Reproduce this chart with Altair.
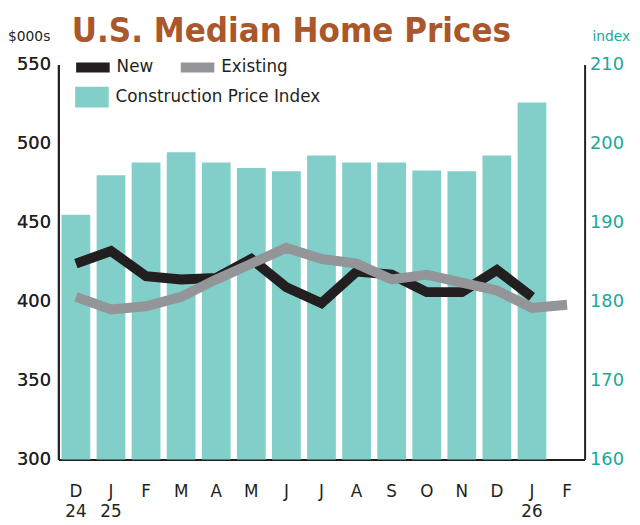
import json
import altair as alt
import pandas as pd

months = ["D", "J", "F", "M", "A", "M", "J", "J", "A", "S", "O", "N", "D", "J", "F"]
years = ["24", "25", "", "", "", "", "", "", "", "", "", "", "", "26", ""]
new_prices = [424, 432, 416, 414, 415, 427, 409, 399, 419, 417, 406, 406, 420, 403]
existing_prices = [403, 395, 397, 403, 414, 424, 434, 427, 424, 414, 417, 412, 407, 396, 398]
cpi = [191.0, 196.0, 197.6, 198.9, 197.6, 196.9, 196.5, 198.5, 197.6, 197.6, 196.6, 196.5, 198.5, 205.2]
left_ticks = [300, 350, 400, 450, 500, 550]
right_ticks = [160, 170, 180, 190, 200, 210]

BLACK = "#231f20"
GRAY = "#939598"
BAR = "#82cfca"
TEAL = "#19a99b"
BROWN = "#a9572b"
FONT = "DejaVu Sans"
TITLE_FONT = "'DejaVu Sans Condensed', 'Roboto Condensed', 'Liberation Sans', sans-serif"

idx = list(range(len(months)))
labels = [[m, y] if y else m for m, y in zip(months, years)]
label_expr = json.dumps(labels) + "[datum.value]"

bars_df = pd.DataFrame({"idx": idx[: len(cpi)], "cpi": cpi, "s": "Construction Price Index"})
lines_df = pd.concat([
    pd.DataFrame({"idx": idx[: len(new_prices)], "v": new_prices, "series": "New"}),
    pd.DataFrame({"idx": idx[: len(existing_prices)], "v": existing_prices, "series": "Existing"}),
])

x_enc = alt.X(
    "idx:O",
    scale=alt.Scale(domain=idx, paddingInner=0.18, paddingOuter=0.09),
    axis=alt.Axis(
        title=None, labelExpr=label_expr, labelAngle=0, ticks=False,
        domainColor=BLACK, domainWidth=2, labelFont=FONT, labelFontSize=17,
        labelColor=BLACK, labelPadding=24, labelLineHeight=21,
    ),
)

bars = alt.Chart(bars_df).mark_bar().encode(
    x=x_enc,
    y=alt.Y("cpi:Q", scale=alt.Scale(domain=[160, 210], zero=False, nice=False),
            axis=alt.Axis(orient="right", values=right_ticks, title=None, grid=False, ticks=False,
                          domainColor=BLACK, domainWidth=2, labelColor=TEAL, labelFont=FONT,
                          labelFontSize=18, labelPadding=5)),
    y2=alt.datum(160),
    fill=alt.Fill("s:N", scale=alt.Scale(domain=["Construction Price Index"], range=[BAR]),
                  legend=alt.Legend(orient="none", legendX=17, legendY=16, title=None,
                                    symbolType="M-1,-0.62H1V0.62H-1Z", symbolSize=1156,
                                    symbolStrokeWidth=0, labelFont=FONT, labelFontSize=17,
                                    labelColor=BLACK, labelOffset=7, labelLimit=400, padding=0)),
)

color = alt.Color("series:N", scale=alt.Scale(domain=["New", "Existing"], range=[BLACK, GRAY]),
                  legend=alt.Legend(orient="none", legendX=13, legendY=-19, direction="horizontal",
                                    title=None, symbolType="stroke", symbolStrokeWidth=10,
                                    symbolSize=1156, labelFont=FONT, labelFontSize=17,
                                    labelColor=BLACK, labelOffset=2, columnPadding=7,
                                    labelLimit=200, padding=0))

y_left = alt.Y("v:Q", scale=alt.Scale(domain=[300, 550], zero=False, nice=False),
               axis=alt.Axis(orient="left", values=left_ticks, title=None, grid=False, ticks=False,
                             domainColor=BLACK, domainWidth=2, labelColor=BLACK, labelFont=FONT,
                             labelFontSize=18, labelPadding=8))

line_new = alt.Chart(lines_df).transform_filter("datum.series == 'New'").mark_line(
    strokeWidth=10, strokeJoin="miter", strokeCap="butt").encode(x=x_enc, y=y_left, color=color)
line_ex = alt.Chart(lines_df).transform_filter("datum.series == 'Existing'").mark_line(
    strokeWidth=10, strokeJoin="miter", strokeCap="butt").encode(x=x_enc, y=y_left, color=color)

one = pd.DataFrame({"a": [0]})
title = alt.Chart(one).mark_text(text="U.S. Median Home Prices", font=TITLE_FONT,
                                 fontWeight="bold", fontSize=35, color=BROWN, align="center",
                                 baseline="alphabetic").encode(x=alt.value(236), y=alt.value(-23))
unit_l = alt.Chart(one).mark_text(text="$000s", font=FONT, fontSize=14, color=BLACK, align="left",
                                  baseline="middle").encode(x=alt.value(-51), y=alt.value(-28))
unit_r = alt.Chart(one).mark_text(text="index", font=FONT, fontSize=14, color=TEAL, align="left",
                                  baseline="middle").encode(x=alt.value(541), y=alt.value(-28))

chart = alt.layer(bars, line_new, line_ex, title, unit_l, unit_r).resolve_scale(
    y="independent"
).properties(
    width=533, height=400,
    padding={"left": 51, "top": 54, "right": 48, "bottom": 63},
    autosize=alt.AutoSizeParams(type="none"),
).configure_view(stroke=None)

chart.save("out.html", embed_options={"renderer": "svg", "actions": False})
